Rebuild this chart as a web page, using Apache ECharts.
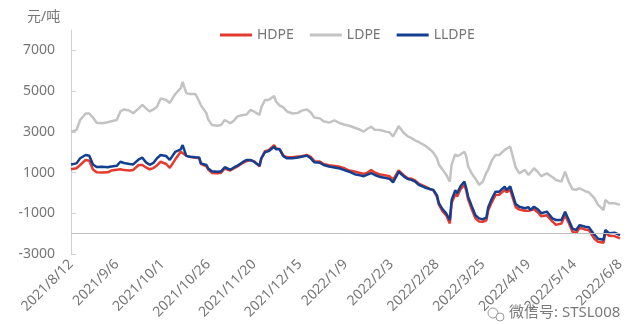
<!DOCTYPE html>
<html>
<head>
<meta charset="utf-8">
<script src="https://cdn.jsdelivr.net/npm/echarts@6/dist/echarts.min.js"></script>
<style>
html, body { margin: 0; padding: 0; background: #fff; }
#chart { width: 640px; height: 324px; }
</style>
</head>
<body>
<div id="chart"></div>
<script>
const startDate = '2021-08-12'
const xTickLabels = ['2021/8/12', '2021/9/6', '2021/10/1', '2021/10/26', '2021/11/20', '2021/12/15', '2022/1/9',
  '2022/2/3', '2022/2/28', '2022/3/25', '2022/4/19', '2022/5/14', '2022/6/8']
const yTicks = [-3000, -1000, 1000, 3000, 5000, 7000]

const dates = [
  '2021-08-12', '2021-08-15', '2021-08-17', '2021-08-20', '2021-08-22', '2021-08-24', '2021-08-26', '2021-08-29',
  '2021-09-01', '2021-09-03', '2021-09-06', '2021-09-08', '2021-09-10', '2021-09-13', '2021-09-15', '2021-09-18',
  '2021-09-20', '2021-09-22', '2021-09-24', '2021-09-26', '2021-09-28', '2021-09-30', '2021-10-03', '2021-10-05',
  '2021-10-08', '2021-10-11', '2021-10-12', '2021-10-14', '2021-10-16', '2021-10-19', '2021-10-21', '2021-10-22',
  '2021-10-25', '2021-10-26', '2021-10-28', '2021-10-31', '2021-11-02', '2021-11-04', '2021-11-07', '2021-11-09',
  '2021-11-11', '2021-11-14', '2021-11-16', '2021-11-18', '2021-11-20', '2021-11-23', '2021-11-24', '2021-11-26',
  '2021-11-28', '2021-12-01', '2021-12-02', '2021-12-04', '2021-12-06', '2021-12-08', '2021-12-11', '2021-12-14',
  '2021-12-16', '2021-12-19', '2021-12-21', '2021-12-23', '2021-12-26', '2021-12-28', '2021-12-31', '2022-01-03',
  '2022-01-06', '2022-01-08', '2022-01-11', '2022-01-14', '2022-01-17', '2022-01-19', '2022-01-21', '2022-01-23',
  '2022-01-25', '2022-01-28', '2022-01-31', '2022-02-02', '2022-02-04', '2022-02-06', '2022-02-07', '2022-02-10',
  '2022-02-12', '2022-02-14', '2022-02-16', '2022-02-18', '2022-02-21', '2022-02-24', '2022-02-26', '2022-02-28',
  '2022-03-01', '2022-03-03', '2022-03-05', '2022-03-07', '2022-03-08', '2022-03-10', '2022-03-11', '2022-03-13',
  '2022-03-15', '2022-03-16', '2022-03-17', '2022-03-19', '2022-03-21', '2022-03-23', '2022-03-25', '2022-03-27',
  '2022-03-28', '2022-03-30', '2022-04-01', '2022-04-03', '2022-04-06', '2022-04-07', '2022-04-09', '2022-04-10',
  '2022-04-12', '2022-04-14', '2022-04-17', '2022-04-19', '2022-04-20', '2022-04-22', '2022-04-24', '2022-04-26',
  '2022-04-29', '2022-05-02', '2022-05-04', '2022-05-07', '2022-05-09', '2022-05-11', '2022-05-13', '2022-05-15',
  '2022-05-17', '2022-05-20', '2022-05-22', '2022-05-25', '2022-05-27', '2022-05-30', '2022-05-31', '2022-06-02',
  '2022-06-05', '2022-06-08'
]

const ldpe = [
  3000, 3090, 3580, 3900, 3900, 3700, 3450, 3420,
  3470, 3520, 3580, 4000, 4100, 4040, 3910, 4150,
  4320, 4150, 4000, 4100, 4230, 4640, 4560, 4420,
  4860, 5140, 5450, 4900, 4860, 4860, 4500, 4300,
  3910, 3600, 3340, 3300, 3330, 3580, 3420, 3550,
  3760, 3830, 3850, 4070, 4000, 3830, 4200, 4560,
  4560, 4760, 4480, 4300, 4200, 4000, 3900, 3930,
  4040, 4100, 3950, 3700, 3660, 3520, 3450, 3560,
  3420, 3360, 3300, 3200, 3100, 3010, 3150, 3250,
  3100, 3090, 3010, 2980, 2780, 3100, 3280, 2930,
  2780, 2700, 2580, 2500, 2350, 2150, 1980, 1700,
  1400, 1150, 900, 550, 1400, 1900, 1800, 1900,
  2020, 1800, 1300, 950, 700, 400, 550, 1000,
  1150, 1600, 1860, 1860, 2110, 2020, 2270, 2300,
  1250, 960, 1130, 880, 900, 1210, 1040, 820,
  960, 780, 630, 560, 1040, 550, 180, 150,
  230, 80, 30, -260, -590, -840, -350, -510,
  -510, -590
]

const lldpe = [
  1400, 1450, 1700, 1860, 1830, 1400, 1270, 1290,
  1260, 1300, 1330, 1530, 1470, 1420, 1400, 1650,
  1730, 1500, 1380, 1470, 1700, 1860, 1810, 1620,
  2020, 2140, 2350, 1820, 1780, 1750, 1740, 1450,
  1370, 1200, 1060, 1040, 1060, 1260, 1140, 1250,
  1340, 1520, 1620, 1620, 1530, 1330, 1700, 2000,
  2050, 2270, 2150, 2140, 1800, 1700, 1700, 1740,
  1780, 1830, 1700, 1500, 1480, 1370, 1300, 1250,
  1200, 1130, 1040, 920, 860, 820, 900, 970,
  880, 780, 730, 700, 520, 850, 1040, 800,
  680, 640, 560, 400, 280, 190, 150, -120,
  -500, -800, -1000, -1330, -350, 130, -20, 350,
  550, 230, -180, -650, -1100, -1250, -1300, -1200,
  -700, -280, 60, 60, 310, 140, 320, 350,
  -550, -680, -750, -700, -840, -680, -800, -1000,
  -920, -1250, -1330, -1330, -920, -1330, -1750, -1820,
  -1580, -1660, -1690, -2050, -2250, -2300, -1820, -1980,
  -1950, -2070
]

const hdpe = [
  1160, 1210, 1370, 1620, 1580, 1150, 1020, 1000,
  1010, 1100, 1140, 1160, 1120, 1100, 1130, 1370,
  1370, 1250, 1160, 1220, 1350, 1530, 1420, 1230,
  1650, 2020, 2080, 1820, 1780, 1730, 1720, 1430,
  1300, 1150, 980, 960, 990, 1200, 1100, 1200,
  1300, 1480, 1560, 1600, 1560, 1300, 1700, 2050,
  2100, 2350, 2200, 2150, 1850, 1750, 1750, 1790,
  1800, 1860, 1770, 1560, 1540, 1420, 1360, 1320,
  1280, 1230, 1100, 1050, 980, 930, 1000, 1120,
  1000, 900, 860, 820, 650, 950, 1100, 860,
  720, 700, 620, 450, 330, 200, 120, -200,
  -580, -900, -1100, -1500, -500, -60, -180, 200,
  400, 100, -320, -800, -1250, -1400, -1420, -1350,
  -850, -450, -100, -90, 150, 30, 150, 180,
  -700, -820, -880, -880, -950, -800, -950, -1150,
  -1100, -1400, -1570, -1500, -1100, -1480, -1900, -1980,
  -1700, -1800, -1830, -2250, -2400, -2450, -1950, -2100,
  -2120, -2230
]

const textFont = '"Noto Sans", "Noto Sans CJK SC", sans-serif'

function dayOf(d) {
  return (Date.parse(d) - Date.parse(startDate)) / 86400000
}
function toPairs(vals) {
  return dates.map((d, i) => [dayOf(d), vals[i]])
}

const chart = echarts.init(document.getElementById('chart'))

const option = {
  animation: false,
  textStyle: { fontFamily: textFont },
  title: {
    text: '元/吨',
    left: 22,
    top: 5,
    textStyle: { fontSize: 14, fontWeight: 'normal', color: '#767676', fontFamily: textFont }
  },
  legend: {
    left: 215,
    top: 23,
    icon: 'rect',
    itemWidth: 32,
    itemHeight: 3,
    itemGap: 16,
    textStyle: { fontSize: 14, color: '#767676' },
    data: ['HDPE', 'LDPE', 'LLDPE']
  },
  grid: {
    left: 71,
    right: 20,
    top: 30,
    bottom: 70
  },
  xAxis: {
    type: 'value',
    min: 0,
    max: 300,
    interval: 25,
    axisLine: { show: false },
    axisTick: { show: false },
    splitLine: { show: false },
    axisLabel: {
      rotate: 45,
      margin: 8,
      fontSize: 14,
      color: '#767676',
      formatter: function (v) { return xTickLabels[Math.round(v / 25)] }
    }
  },
  yAxis: {
    type: 'value',
    min: -3000,
    max: 8000,
    axisLine: { show: true, lineStyle: { color: '#d0d0d0', width: 1 } },
    axisTick: { show: true, inside: true, length: 5, customValues: yTicks, lineStyle: { color: '#d0d0d0' } },
    splitLine: { show: false },
    axisLabel: {
      customValues: yTicks,
      margin: 16,
      fontSize: 14,
      color: '#767676',
      formatter: function (v) { return String(v) }
    }
  },
  series: [
    {
      name: 'HDPE',
      type: 'line',
      showSymbol: false,
      data: toPairs(hdpe),
      lineStyle: { color: '#e63a2e', width: 2.5 },
      itemStyle: { color: '#e63a2e' }
    },
    {
      name: 'LDPE',
      type: 'line',
      showSymbol: false,
      data: toPairs(ldpe),
      lineStyle: { color: '#c3c3c3', width: 2.5 },
      itemStyle: { color: '#c3c3c3' },
      markLine: {
        silent: true,
        symbol: 'none',
        label: { show: false },
        lineStyle: { color: '#bfbfbf', width: 1, type: 'solid' },
        data: [{ yAxis: -2000 }]
      }
    },
    {
      name: 'LLDPE',
      type: 'line',
      showSymbol: false,
      data: toPairs(lldpe),
      lineStyle: { color: '#123f8f', width: 2.5 },
      itemStyle: { color: '#123f8f' }
    }
  ],
  graphic: [
    {
      type: 'circle', shape: { cx: 493, cy: 313, r: 5 },
      style: { fill: 'none', stroke: '#9a9a9a', lineWidth: 1 }
    },
    {
      type: 'circle', shape: { cx: 500, cy: 317, r: 4 },
      style: { fill: '#fff', stroke: '#9a9a9a', lineWidth: 1 }
    },
    {
      type: 'text', left: 509, top: 305,
      style: { text: '微信号: STSL008', fontSize: 15, fill: '#7a7a7a', fontFamily: textFont }
    }
  ]
}

chart.setOption(option)
window.addEventListener('resize', function () { chart.resize() })
</script>
</body>
</html>
